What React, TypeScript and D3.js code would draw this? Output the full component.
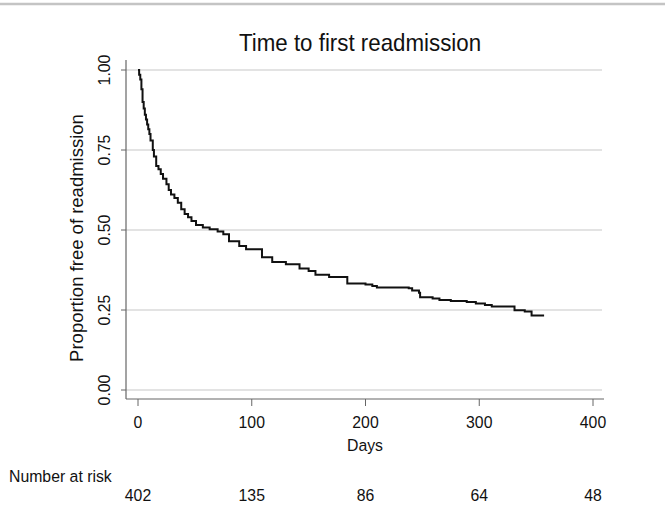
import React from 'react';
import { scaleLinear, line, curveStepAfter } from 'd3';

const width = 665;
const height = 507;

// Kaplan-Meier steps
const days = [
    0, 1, 2, 3, 4, 5, 6, 7, 8, 9, 10, 11, 13, 14, 16, 18, 20, 22, 25, 27, 29, 32, 35, 38, 41, 44, 47, 51, 57, 63, 70, 75, 80,
    89, 95, 109, 118, 130, 142, 150, 156, 168, 184, 200, 206, 210, 238, 241, 247,
    248, 259, 265, 275, 289, 297, 305, 311, 331, 340, 346, 357
];
const survival = [
    1.0, 0.985, 0.97, 0.94, 0.9, 0.88, 0.86, 0.845, 0.83, 0.815, 0.8, 0.78, 0.75, 0.73, 0.7, 0.69, 0.675, 0.66, 0.643, 0.625, 0.611, 0.6, 0.585, 0.565, 0.55, 0.54, 0.528, 0.516, 0.508, 0.502, 0.495, 0.487, 0.465,
    0.45, 0.44, 0.415, 0.4, 0.393, 0.38, 0.372, 0.36, 0.353, 0.333, 0.33, 0.325, 0.32, 0.318, 0.311, 0.304,
    0.29, 0.286, 0.281, 0.278, 0.275, 0.27, 0.266, 0.261, 0.249, 0.245, 0.233, 0.233
];

const xTicks = [0, 100, 200, 300, 400];
const yTicks = [0, 0.25, 0.5, 0.75, 1];
const atRisk = [402, 135, 86, 64, 48];

const x = scaleLinear().domain([0, 400]).range([138, 593]);
const y = scaleLinear().domain([0, 1]).range([390, 70]);

const axisX = 126;
const axisY = 399;
const font = '"Liberation Sans", Arial, sans-serif';
const ink = '#111';

const path = line<number>()
    .x((d, i) => x(days[i]))
    .y(d => y(d))
    .curve(curveStepAfter);

// slightly condensed text, like the narrow face of the original
function Label({ tx, ty, rot = 0, size, sx = 0.93, anchor = 'middle', baseline, children }: any) {
    return (
        <text transform={`translate(${tx},${ty}) rotate(${rot}) scale(${sx},1)`} textAnchor={anchor}
            dominantBaseline={baseline} fontSize={size} fill={ink}>{children}</text>
    );
}

export default function App() {
    return (
        <svg width={width} height={height} style={{ position: 'absolute', left: 0, top: 0 }}
            fontFamily={font}>
            <rect width={width} height={height} fill="#fff" />
            <line x1={0} x2={width} y1={4} y2={4} stroke="#c4c4c4" strokeWidth={2.5} />

            <Label tx={360} ty={51} size={24}>Time to first readmission</Label>

            {yTicks.map(t => (
                <g key={t}>
                    <line x1={axisX} x2={602} y1={y(t)} y2={y(t)} stroke="#c8c8c8" strokeWidth={1.2} />
                    <line x1={axisX - 5} x2={axisX} y1={y(t)} y2={y(t)} stroke="#666" />
                    <Label tx={104} ty={y(t)} rot={-90} size={17} baseline="central">{t.toFixed(2)}</Label>
                </g>
            ))}

            <line x1={axisX} x2={axisX} y1={60} y2={axisY} stroke="#666" strokeWidth={1.2} />
            <line x1={axisX} x2={604} y1={axisY} y2={axisY} stroke="#666" strokeWidth={1.2} />

            {xTicks.map((t, i) => (
                <g key={t}>
                    <line x1={x(t)} x2={x(t)} y1={axisY} y2={axisY + 7} stroke="#666" />
                    <Label tx={x(t)} ty={427.5} size={17}>{t}</Label>
                    <Label tx={x(t)} ty={501} size={17}>{atRisk[i]}</Label>
                </g>
            ))}

            <Label tx={365} ty={451} size={17}>Days</Label>
            <Label tx={9} ty={482} size={17} anchor="start">Number at risk</Label>
            <Label tx={83} ty={238} rot={-90} size={18.5} sx={1}>Proportion free of readmission</Label>

            <path d={path(survival) ?? ''} fill="none" stroke="#111" strokeWidth={2} />
        </svg>
    );
}
